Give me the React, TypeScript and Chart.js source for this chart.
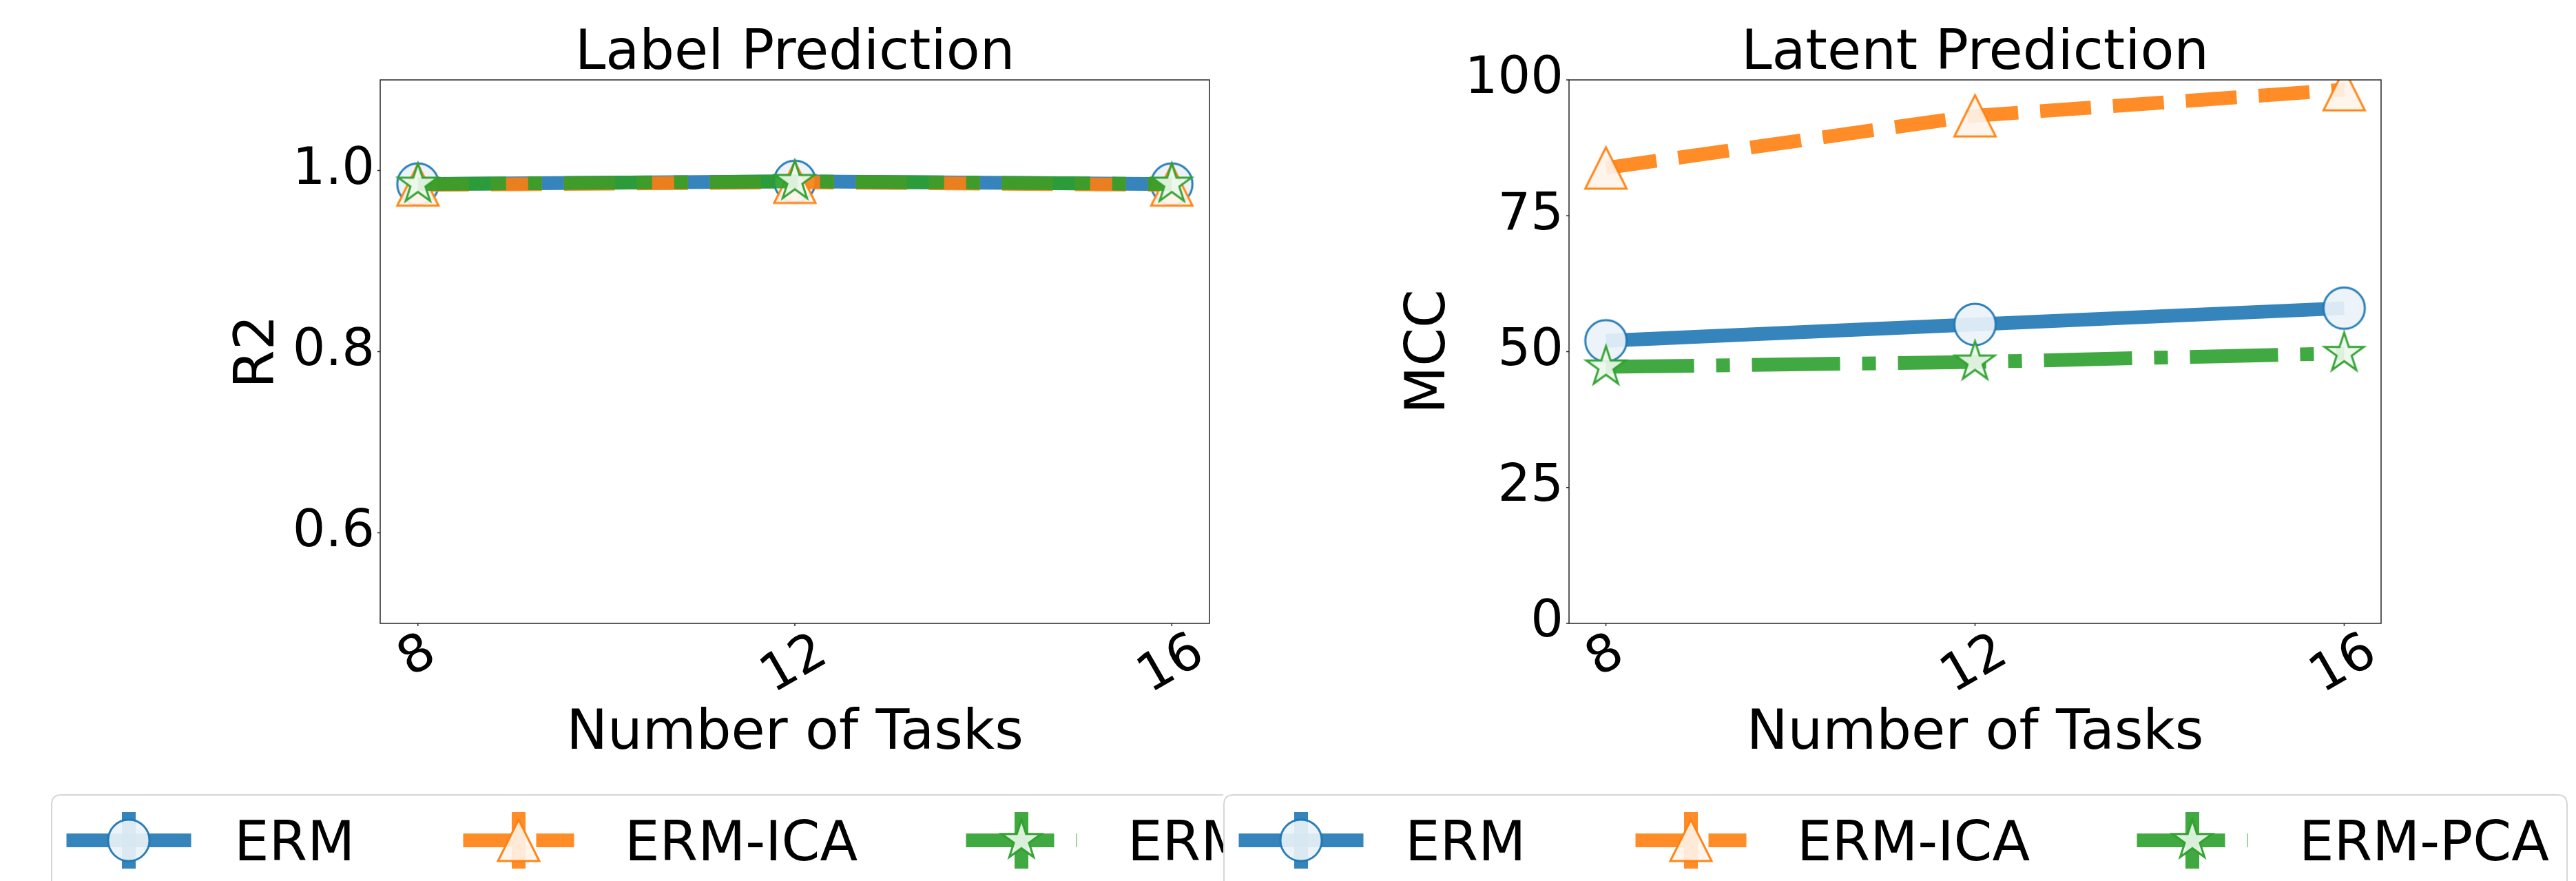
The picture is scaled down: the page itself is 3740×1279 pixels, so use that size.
import React, { useEffect, useRef } from 'react';
import { Chart, registerables } from 'chart.js';

Chart.register(...registerables);

// ---------------- data ----------------
const tasks = [8, 12, 16];
const xTickValues = [8, 12, 16];
const seriesNames = ['ERM', 'ERM-ICA', 'ERM-PCA'];

// Label Prediction (R2)
const labelERM = [0.985, 0.988, 0.985];
const labelICA = [0.984, 0.987, 0.984];
const labelPCA = [0.985, 0.988, 0.985];
const labelYTicks = [0.6, 0.8, 1.0];

// Latent Prediction (MCC)
const latentERM = [52.0, 55.0, 58.0];
const latentICA = [83.8, 93.4, 98.2];
const latentPCA = [47.2, 48.1, 49.7];
const latentYTicks = [0, 25, 50, 75, 100];

// ---------------- style ----------------
const FONT = "'DejaVu Sans', 'Liberation Sans', sans-serif";
const RGB = ['31,119,180', '255,127,14', '44,160,44'];
const LW = 20;
const DASHES: number[][] = [[], [74, 32], [128, 32, 20, 32]];
const SHAPES = ['circle', 'triangle', 'star'];
const MS = 60;
const H = 1279;
const ROT = 30;

function markerPath(ctx: CanvasRenderingContext2D, shape: string, cx: number, cy: number, r: number) {
  ctx.beginPath();
  if (shape === 'circle') {
    ctx.arc(cx, cy, r, 0, Math.PI * 2);
  } else if (shape === 'triangle') {
    ctx.moveTo(cx, cy - r);
    ctx.lineTo(cx - r, cy + r);
    ctx.lineTo(cx + r, cy + r);
    ctx.closePath();
  } else {
    const inner = r * 0.381966;
    for (let i = 0; i < 10; i++) {
      const ang = -Math.PI / 2 + (i * Math.PI) / 5;
      const rr = i % 2 === 0 ? r : inner;
      const px = cx + rr * Math.cos(ang);
      const py = cy + rr * Math.sin(ang);
      if (i === 0) ctx.moveTo(px, py);
      else ctx.lineTo(px, py);
    }
    ctx.closePath();
  }
}

function drawMarker(ctx: CanvasRenderingContext2D, k: number, cx: number, cy: number) {
  ctx.save();
  markerPath(ctx, SHAPES[k], cx, cy, MS / 2);
  ctx.fillStyle = 'rgba(255,255,255,0.9)';
  ctx.fill();
  ctx.fillStyle = `rgba(${RGB[k]},0.08)`;
  ctx.fill();
  ctx.lineWidth = 3;
  ctx.lineJoin = 'miter';
  ctx.strokeStyle = `rgba(${RGB[k]},0.95)`;
  ctx.stroke();
  ctx.restore();
}

function makeMarkerCanvas(k: number) {
  const c = document.createElement('canvas');
  c.width = 72;
  c.height = 72;
  const ctx = c.getContext('2d') as CanvasRenderingContext2D;
  drawMarker(ctx, k, 36, 36);
  return c;
}

function roundRectPath(ctx: CanvasRenderingContext2D, x: number, y: number, w: number, h: number, r: number) {
  ctx.beginPath();
  ctx.moveTo(x + r, y);
  ctx.lineTo(x + w - r, y);
  ctx.quadraticCurveTo(x + w, y, x + w, y + r);
  ctx.lineTo(x + w, y + h - r);
  ctx.quadraticCurveTo(x + w, y + h, x + w - r, y + h);
  ctx.lineTo(x + r, y + h);
  ctx.quadraticCurveTo(x, y + h, x, y + h - r);
  ctx.lineTo(x, y + r);
  ctx.quadraticCurveTo(x, y, x + r, y);
  ctx.closePath();
}

type Spec = {
  title: string;
  yTitle: string;
  series: number[][];
  yMin: number;
  yMax: number;
  yTicks: number[];
  fmt: (v: number) => string;
  canvasLeft: number;
  canvasWidth: number;
  yWidth: number;
  padRight: number;
  yTitleX: number;
  legendBoxLeft: number;
  legendBoxRight: number;
  legendCenters: number[];
  legendTextX: number[];
};

const specs: Spec[] = [
  {
    title: 'Label Prediction',
    yTitle: 'R2',
    series: [labelERM, labelICA, labelPCA],
    yMin: 0.5,
    yMax: 1.1,
    yTicks: labelYTicks,
    fmt: (v) => v.toFixed(1),
    canvasLeft: 0,
    canvasWidth: 1776,
    yWidth: 552,
    padRight: 20,
    yTitleX: 397,
    legendBoxLeft: 75,
    legendBoxRight: 1900,
    legendCenters: [187, 753, 1483],
    legendTextX: [340, 907, 1637],
  },
  {
    title: 'Latent Prediction',
    yTitle: 'MCC',
    series: [latentERM, latentICA, latentPCA],
    yMin: 0,
    yMax: 100,
    yTicks: latentYTicks,
    fmt: (v) => String(v),
    canvasLeft: 1776,
    canvasWidth: 1964,
    yWidth: 502,
    padRight: 283,
    yTitleX: 321,
    legendBoxLeft: 1,
    legendBoxRight: 1951,
    legendCenters: [113, 679, 1407],
    legendTextX: [264, 833, 1562],
  },
];

function decoPlugin(spec: Spec) {
  return {
    id: 'deco',
    afterDraw(chart: any) {
      const ctx: CanvasRenderingContext2D = chart.ctx;
      const a = chart.chartArea;
      const xs = chart.scales.x;
      const ys = chart.scales.y;
      ctx.save();
      // frame (spines)
      ctx.strokeStyle = '#262626';
      ctx.lineWidth = 1.5;
      ctx.strokeRect(a.left, a.top, a.right - a.left, a.bottom - a.top);
      // tick marks
      ctx.beginPath();
      xTickValues.forEach((v) => {
        const p = xs.getPixelForValue(v);
        ctx.moveTo(p, a.bottom);
        ctx.lineTo(p, a.bottom + 4);
      });
      spec.yTicks.forEach((v) => {
        const p = ys.getPixelForValue(v);
        ctx.moveTo(a.left, p);
        ctx.lineTo(a.left - 4, p);
      });
      ctx.stroke();

      ctx.fillStyle = '#000';
      // x tick labels (rotated, centred)
      ctx.font = `75px ${FONT}`;
      const th = (ROT * Math.PI) / 180;
      xTickValues.forEach((v) => {
        const t = String(v);
        const w = ctx.measureText(t).width;
        const hh = 75 * 0.9;
        const bh = w * Math.sin(th) + hh * Math.cos(th);
        const cx = xs.getPixelForValue(v);
        const cy = a.bottom + 8 + bh / 2;
        ctx.save();
        ctx.translate(cx, cy);
        ctx.rotate(-th);
        ctx.textAlign = 'center';
        ctx.textBaseline = 'middle';
        ctx.fillText(t, 0, 0);
        ctx.restore();
      });

      // title
      ctx.font = `80px ${FONT}`;
      ctx.textAlign = 'center';
      ctx.textBaseline = 'alphabetic';
      const midX = (a.left + a.right) / 2;
      ctx.fillText(spec.title, midX, 100);
      // x axis title
      ctx.fillText('Number of Tasks', midX, 1087);
      // y axis title
      ctx.save();
      ctx.translate(spec.yTitleX, (a.top + a.bottom) / 2);
      ctx.rotate(-Math.PI / 2);
      ctx.fillText(spec.yTitle, 0, 0);
      ctx.restore();

      // legend
      const top = 1154;
      roundRectPath(ctx, spec.legendBoxLeft, top, spec.legendBoxRight - spec.legendBoxLeft, 300, 14);
      ctx.fillStyle = '#ffffff';
      ctx.fill();
      ctx.strokeStyle = '#d6d6d6';
      ctx.lineWidth = 2;
      ctx.stroke();
      const cy = 1220;
      seriesNames.forEach((name, k) => {
        const cx = spec.legendCenters[k];
        ctx.save();
        ctx.strokeStyle = `rgba(${RGB[k]},0.9)`;
        ctx.lineWidth = LW;
        ctx.setLineDash(DASHES[k]);
        ctx.lineCap = k === 0 ? 'square' : 'butt';
        ctx.beginPath();
        ctx.moveTo(cx - 80.5, cy);
        ctx.lineTo(cx + 80.5, cy);
        ctx.stroke();
        ctx.setLineDash([]);
        ctx.lineCap = 'butt';
        ctx.beginPath();
        ctx.moveTo(cx, cy - 41);
        ctx.lineTo(cx, cy + 41);
        ctx.stroke();
        ctx.restore();
        drawMarker(ctx, k, cx, cy);
        ctx.fillStyle = '#000';
        ctx.font = `80px ${FONT}`;
        ctx.textAlign = 'left';
        ctx.textBaseline = 'alphabetic';
        ctx.fillText(name, spec.legendTextX[k], cy + 29);
      });
      ctx.restore();
    },
  };
}

function Panel({ spec }: { spec: Spec }) {
  const ref = useRef<HTMLCanvasElement>(null);
  useEffect(() => {
    const canvas = ref.current;
    if (!canvas) return;
    const markers = [0, 1, 2].map((k) => makeMarkerCanvas(k));
    const datasets = spec.series.map((vals, k) => ({
      label: seriesNames[k],
      data: tasks.map((x, i) => ({ x, y: vals[i] })),
      borderColor: `rgba(${RGB[k]},0.9)`,
      backgroundColor: `rgba(${RGB[k]},0.9)`,
      borderWidth: LW,
      borderDash: DASHES[k],
      borderCapStyle: 'butt' as const,
      borderJoinStyle: 'round' as const,
      pointStyle: markers[k],
      pointRadius: 30,
      pointHoverRadius: 30,
      pointBorderWidth: 0,
      tension: 0,
      fill: false,
      clip: 0,
      order: 3 - k,
    }));
    const chart = new Chart(canvas, {
      type: 'line',
      data: { datasets },
      options: {
        animation: false,
        responsive: false,
        devicePixelRatio: 1,
        events: [],
        layout: { autoPadding: false, padding: { left: 0, right: spec.padRight, top: 116, bottom: 0 } },
        plugins: {
          legend: { display: false },
          tooltip: { enabled: false },
          title: { display: false },
        },
        scales: {
          x: {
            type: 'linear',
            min: 7.6,
            max: 16.4,
            afterBuildTicks: (s: any) => {
              s.ticks = xTickValues.map((v) => ({ value: v }));
            },
            afterFit: (s: any) => {
              s.height = H - 905;
            },
            ticks: { display: false },
            grid: { display: false, drawTicks: false },
            border: { display: false },
          },
          y: {
            type: 'linear',
            min: spec.yMin,
            max: spec.yMax,
            afterBuildTicks: (s: any) => {
              s.ticks = spec.yTicks.map((v) => ({ value: v }));
            },
            afterFit: (s: any) => {
              s.width = spec.yWidth;
            },
            ticks: {
              display: true,
              padding: 8,
              color: '#000',
              font: { family: FONT, size: 75 },
              callback: (v: any) => spec.fmt(Number(v)),
            },
            grid: { display: false, drawTicks: false },
            border: { display: false },
          },
        },
      },
      plugins: [decoPlugin(spec)],
    } as any);
    return () => chart.destroy();
  }, [spec]);
  return (
    <canvas
      ref={ref}
      width={spec.canvasWidth}
      height={H}
      style={{ position: 'absolute', left: spec.canvasLeft, top: 0, width: spec.canvasWidth, height: H }}
    />
  );
}

export default function App() {
  return (
    <div style={{ position: 'absolute', left: 0, top: 0, width: 3740, height: H, background: '#fff', overflow: 'hidden' }}>
      {specs.map((s, i) => (
        <Panel key={i} spec={s} />
      ))}
    </div>
  );
}
